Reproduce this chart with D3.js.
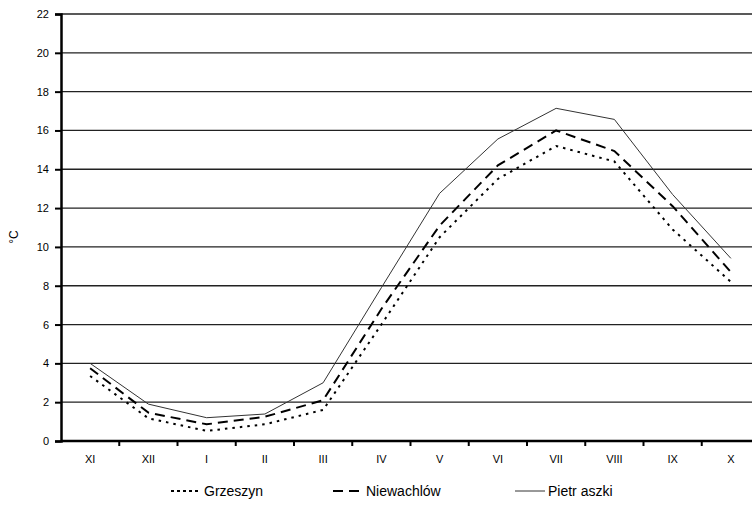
<!DOCTYPE html>
<html><head><meta charset="utf-8">
<script src="https://cdn.jsdelivr.net/npm/d3@7/dist/d3.min.js"></script>
<style>body{margin:0;background:#fff}svg{display:block;font-family:"Liberation Sans",Arial,sans-serif}</style>
</head><body><svg id="c" width="752" height="513"></svg>
<script>
const months = ["XI","XII","I","II","III","IV","V","VI","VII","VIII","IX","X"];
const grzeszyn = [3.35,1.17,0.52,0.86,1.6,6.0,10.5,13.5,15.2,14.4,10.9,8.2];
const niewachlow = [3.75,1.46,0.86,1.25,2.1,6.8,11.1,14.2,16.0,14.94,12.1,8.7];
const pietraszki = [4.0,1.9,1.2,1.39,3.0,7.9,12.76,15.56,17.14,16.57,12.7,9.41];
const yTicks = [0,2,4,6,8,10,12,14,16,18,20,22];
const seriesNames = ["Grzeszyn","Niewachlów","Pietr aszki"];

const svg = d3.select("#c");
const L = 61, R = 760, T = 14, B = 441;
const x = d3.scaleBand().domain(months).range([L, R]);
const y = d3.scaleLinear().domain([0,22]).range([B, T]);

// gridlines
svg.append("g").selectAll("line").data(yTicks.filter(d=>d>0)).join("line")
  .attr("x1", L).attr("x2", 752).attr("y1", d=>y(d)).attr("y2", d=>y(d))
  .attr("stroke", "#222").attr("stroke-width", 1.3);

// y axis
const ya = svg.append("g").attr("transform", `translate(${L},0)`)
  .call(d3.axisLeft(y).tickValues(yTicks).tickSize(6).tickPadding(6));
ya.select(".domain").attr("stroke","#000").attr("stroke-width",2.5);
ya.selectAll(".tick line").attr("stroke","#000").attr("stroke-width",2);
ya.selectAll("text").attr("font-size",11).attr("fill","#000").attr("font-family","Liberation Sans, Arial, sans-serif");

// x axis
const xa = svg.append("g").attr("transform", `translate(0,${B})`)
  .call(d3.axisBottom(x).tickSize(0).tickPadding(14));
xa.select(".domain").remove();
xa.append("line").attr("x1", L).attr("x2", 752).attr("stroke","#000").attr("stroke-width",2.5);
xa.selectAll(".tick text").attr("font-size",11).attr("fill","#000").attr("font-family","Liberation Sans, Arial, sans-serif");
xa.selectAll("line.bt").data(months.slice(1)).join("line").attr("class","bt")
  .attr("x1", d=>x(d)).attr("x2", d=>x(d)).attr("y1",0).attr("y2",5)
  .attr("stroke","#000").attr("stroke-width",2);

// y label
svg.append("text").attr("transform","translate(18,237) rotate(-90)")
  .attr("text-anchor","middle").attr("font-size",12).text("°C");

const line = d3.line().x((d,i)=>x(months[i]) + x.bandwidth()/2).y(d=>y(d));
const styles = [
  {data: grzeszyn, dash:"2.5,5", w:2, c:"#000", ldash:"3,3"},
  {data: niewachlow, dash:"10,6", w:2, c:"#000", ldash:"10,6"},
  {data: pietraszki, dash:null, w:1, c:"#333", ldash:null}
];
styles.forEach(s=>{
  svg.append("path").datum(s.data).attr("d", line).attr("fill","none")
    .attr("stroke", s.c).attr("stroke-width", s.w).attr("stroke-dasharray", s.dash);
});

// legend
const legX = [171, 333, 515];
styles.forEach((s,i)=>{
  svg.append("line").attr("x1", legX[i]).attr("x2", legX[i]+30).attr("y1",491).attr("y2",491)
    .attr("stroke", s.c).attr("stroke-width", s.w).attr("stroke-dasharray", s.ldash);
  svg.append("text").attr("x", legX[i]+33).attr("y", 496).attr("font-size",14).text(seriesNames[i]);
});
</script></body></html>
